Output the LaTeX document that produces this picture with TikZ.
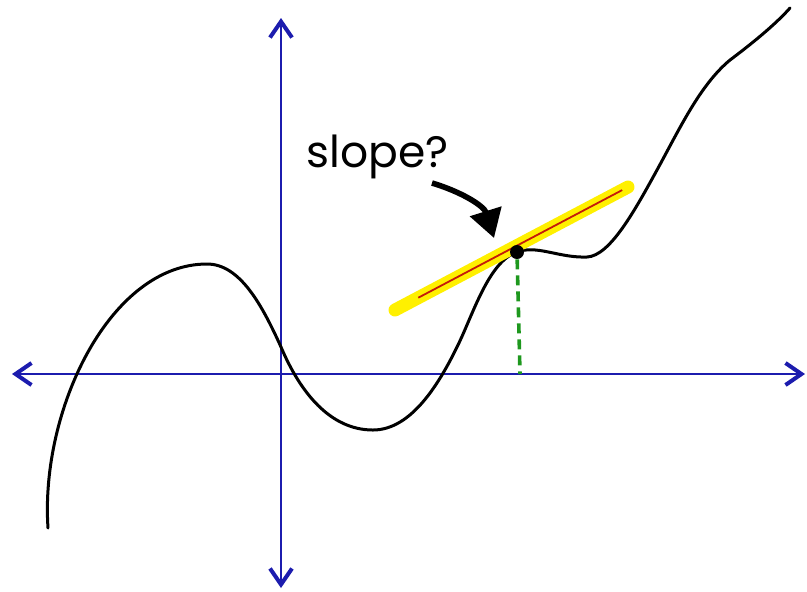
\documentclass[tikz,border=0pt]{standalone}
\usepackage{fontspec}
\usepackage{xcolor}
\usepackage{tikz}
\usetikzlibrary{arrows.meta,positioning,calc}
\newfontfamily\slhand{Poppins}
\definecolor{slblue}{HTML}{1C1CAE}
\definecolor{slyellow}{HTML}{FFF000}
\definecolor{slred}{HTML}{C41A0A}
\definecolor{slgreen}{HTML}{1E981E}
\tikzset{
  slaxis/.style={draw=slblue, line width=1.1pt,
    {Straight Barb[length=8pt, width=11pt, line width=2pt]}-{Straight Barb[length=8pt, width=11pt, line width=2pt]}},
  slcurve/.style={draw=black, line width=1.5pt, line cap=round},
  slglow/.style={draw=slyellow, line width=6.5pt, line cap=round},
  sltangent/.style={draw=slred, line width=0.9pt},
  sldrop/.style={draw=slgreen, line width=1.8pt, dash pattern=on 5pt off 3pt},
  sldot/.style={circle, fill=black, inner sep=0pt, minimum size=7pt},
  slnote/.style={font=\slhand\fontsize{22}{22}\selectfont, inner sep=0pt},
  slarrow/.style={-{Triangle[length=14pt, width=16pt]}, line width=2.8pt, draw=black}
}
\begin{document}
\begin{tikzpicture}[x=0.5pt, y=-0.5pt]
  \useasboundingbox (0,0) rectangle (807,591);
  % axes
  \coordinate (xl) at (12,374);
  \coordinate (xr) at (805,374);
  \coordinate (yt) at (281,18);
  \coordinate (yb) at (281,588);
  \draw[slaxis] (xl) -- (xr);
  \draw[slaxis] (yt) -- (yb);
  % function
  \draw[slcurve] (48,528) .. controls (40,410) and (110,264) .. (207,264)
    .. controls (240,264) and (262,305) .. (281,347)
    .. controls (300,392) and (330,430) .. (373,430)
    .. controls (412,430) and (440,382) .. (458,345)
    .. controls (474,312) and (490,258) .. (520,251)
    .. controls (540,246) and (560,258) .. (587,257)
    .. controls (610,256) and (635,210) .. (657,170)
    .. controls (680,128) and (700,85) .. (730,60)
    .. controls (750,45) and (775,25) .. (790,8);
  % tangent
  \coordinate (tl) at (395,310);
  \coordinate (tr) at (628,187);
  \draw[slglow] (tl) -- (tr);
  \draw[sltangent] ($(tl)!0.1!(tr)$) -- ($(tl)!0.975!(tr)$);
  \node[sldot] (pt) at (517,252) {};
  \coordinate (foot) at (520,374);
  \draw[sldrop] (pt) -- (foot);
  % label
  \node[slnote, anchor=base west] (lbl) at (306,167) {slope?};
  \coordinate (arrfrom) at (432,183);
  \coordinate (arrto) at (494,238);
  \draw[slarrow] (arrfrom) .. controls (462,192) and (484,206) .. (arrto);
\end{tikzpicture}
\end{document}
